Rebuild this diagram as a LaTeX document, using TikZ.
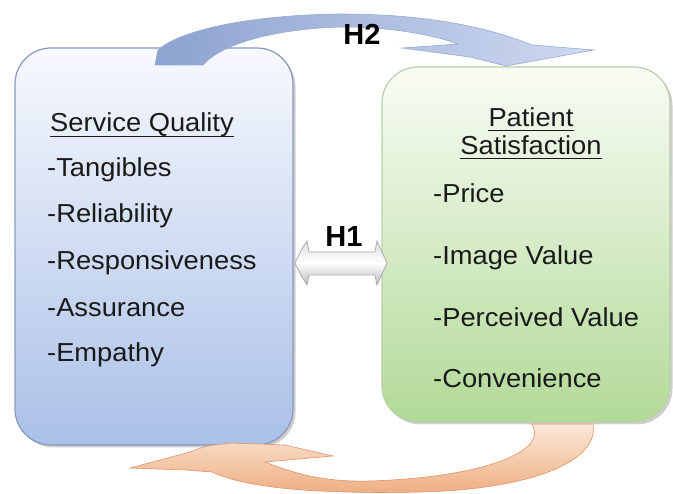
\documentclass[tikz,border=0pt]{standalone}
\usepackage{fontspec}
\setmainfont{Liberation Sans}
\newfontfamily\panelfont[FakeStretch=1.05]{Liberation Sans}
\usetikzlibrary{shadows}

\definecolor{sqedge}{RGB}{136,152,190}
\definecolor{sqtop}{RGB}{247,249,254}
\definecolor{sqbot}{RGB}{170,192,231}
\definecolor{psedge}{RGB}{186,208,170}
\definecolor{pstop}{RGB}{249,252,245}
\definecolor{psbot}{RGB}{178,218,152}
\definecolor{hblue}{RGB}{140,162,208}
\definecolor{hbluelight}{RGB}{208,218,240}
\definecolor{hblueedge}{RGB}{150,170,210}
\definecolor{peachlight}{RGB}{251,232,218}
\definecolor{peachdark}{RGB}{238,174,130}
\definecolor{peachedge}{RGB}{222,150,108}
\definecolor{txt}{RGB}{26,26,26}

\begin{document}
\begin{tikzpicture}[x=1pt,y=-1pt,
  panel/.style={rounded corners=36pt, line width=1.2pt,
    drop shadow={shadow xshift=2.5pt, shadow yshift=-2.5pt, opacity=0.35, fill=black!55}},
  body/.style={font=\panelfont\fontsize{26}{30}\selectfont, text=txt, inner sep=0pt},
  hlabel/.style={font=\bfseries\fontsize{29}{32}\selectfont, text=black, inner sep=0pt},
  uline/.style={line width=1.3pt, txt},
]
\useasboundingbox (0,0) rectangle (673,494);

% the two panels
\node[panel, draw=sqedge, top color=sqtop, bottom color=sqbot,
      minimum width=278pt, minimum height=397pt] (sq) at (154,246.5) {};
\node[panel, draw=psedge, top color=pstop, bottom color=psbot,
      minimum width=288pt, minimum height=355pt] (ps) at (526,244.5) {};

% Service Quality
\node[body, anchor=base west] (sqt) at (50,132) {Service Quality};
\draw[uline] ([yshift=-4.5pt]sqt.base west) -- ([yshift=-4.5pt]sqt.base east);
\node[body, anchor=base west] (sq1) at (47,177) {-Tangibles};
\node[body, anchor=base west] (sq2) at (47,223) {-Reliability};
\node[body, anchor=base west] (sq3) at (47,270) {-Responsiveness};
\node[body, anchor=base west] (sq4) at (47,317) {-Assurance};
\node[body, anchor=base west] (sq5) at (47,362) {-Empathy};

% Patient Satisfaction
\node[body, anchor=base] (pst1) at (531,127) {Patient};
\draw[uline] ([yshift=-3.5pt]pst1.base west) -- ([yshift=-3.5pt]pst1.base east);
\node[body, anchor=base] (pst2) at (531,155) {Satisfaction};
\draw[uline] ([yshift=-3.5pt]pst2.base west) -- ([yshift=-3.5pt]pst2.base east);
\node[body, anchor=base west] (ps1) at (433,203) {-Price};
\node[body, anchor=base west] (ps2) at (433,265) {-Image Value};
\node[body, anchor=base west] (ps3) at (433,327) {-Perceived Value};
\node[body, anchor=base west] (ps4) at (433,388) {-Convenience};

% H1: two-headed block arrow between the panels
\path[draw=gray!65, line width=0.8pt, top color=gray!25, bottom color=gray!55, middle color=white]
  (295,263) .. controls (300,252) .. (307,241) -- (309,252) -- (375,252) -- (377,241)
  .. controls (382,252) .. (387,263) .. controls (382,274) .. (377,285)
  -- (375,275) -- (309,275) -- (307,285) .. controls (300,274) .. cycle;
\node[hlabel, anchor=base] (h1) at (344,247) {H1};

% H2: curved arrow over the top
\path[draw=hblueedge, line width=0.6pt, left color=hblue, right color=hbluelight]
  (155,65) -- (203,65) .. controls (225,40) and (290,27) .. (350,27)
  .. controls (400,28) and (440,37) .. (458,44) -- (402,48) -- (470,57) -- (506,66)
  -- (594,50) -- (532,45) .. controls (470,20) and (400,14) .. (340,14)
  .. controls (250,15) and (180,30) .. (158,50) -- cycle;
\node[hlabel, anchor=base] (h2) at (362,45) {H2};

% curved arrow underneath, back to Service Quality
\path[draw=peachedge, line width=0.6pt, top color=peachlight, bottom color=peachdark]
  (130,468) -- (190,452) .. controls (205,446) .. (232,443) -- (285,445) -- (333,456)
  -- (265,462) .. controls (300,476) and (330,482) .. (370,481)
  .. controls (470,478) and (550,455) .. (532,424) -- (593,424)
  .. controls (600,465) and (520,490) .. (420,492)
  .. controls (330,494) and (250,490) .. (212,472) -- (185,470) -- cycle;
\end{tikzpicture}
\end{document}
